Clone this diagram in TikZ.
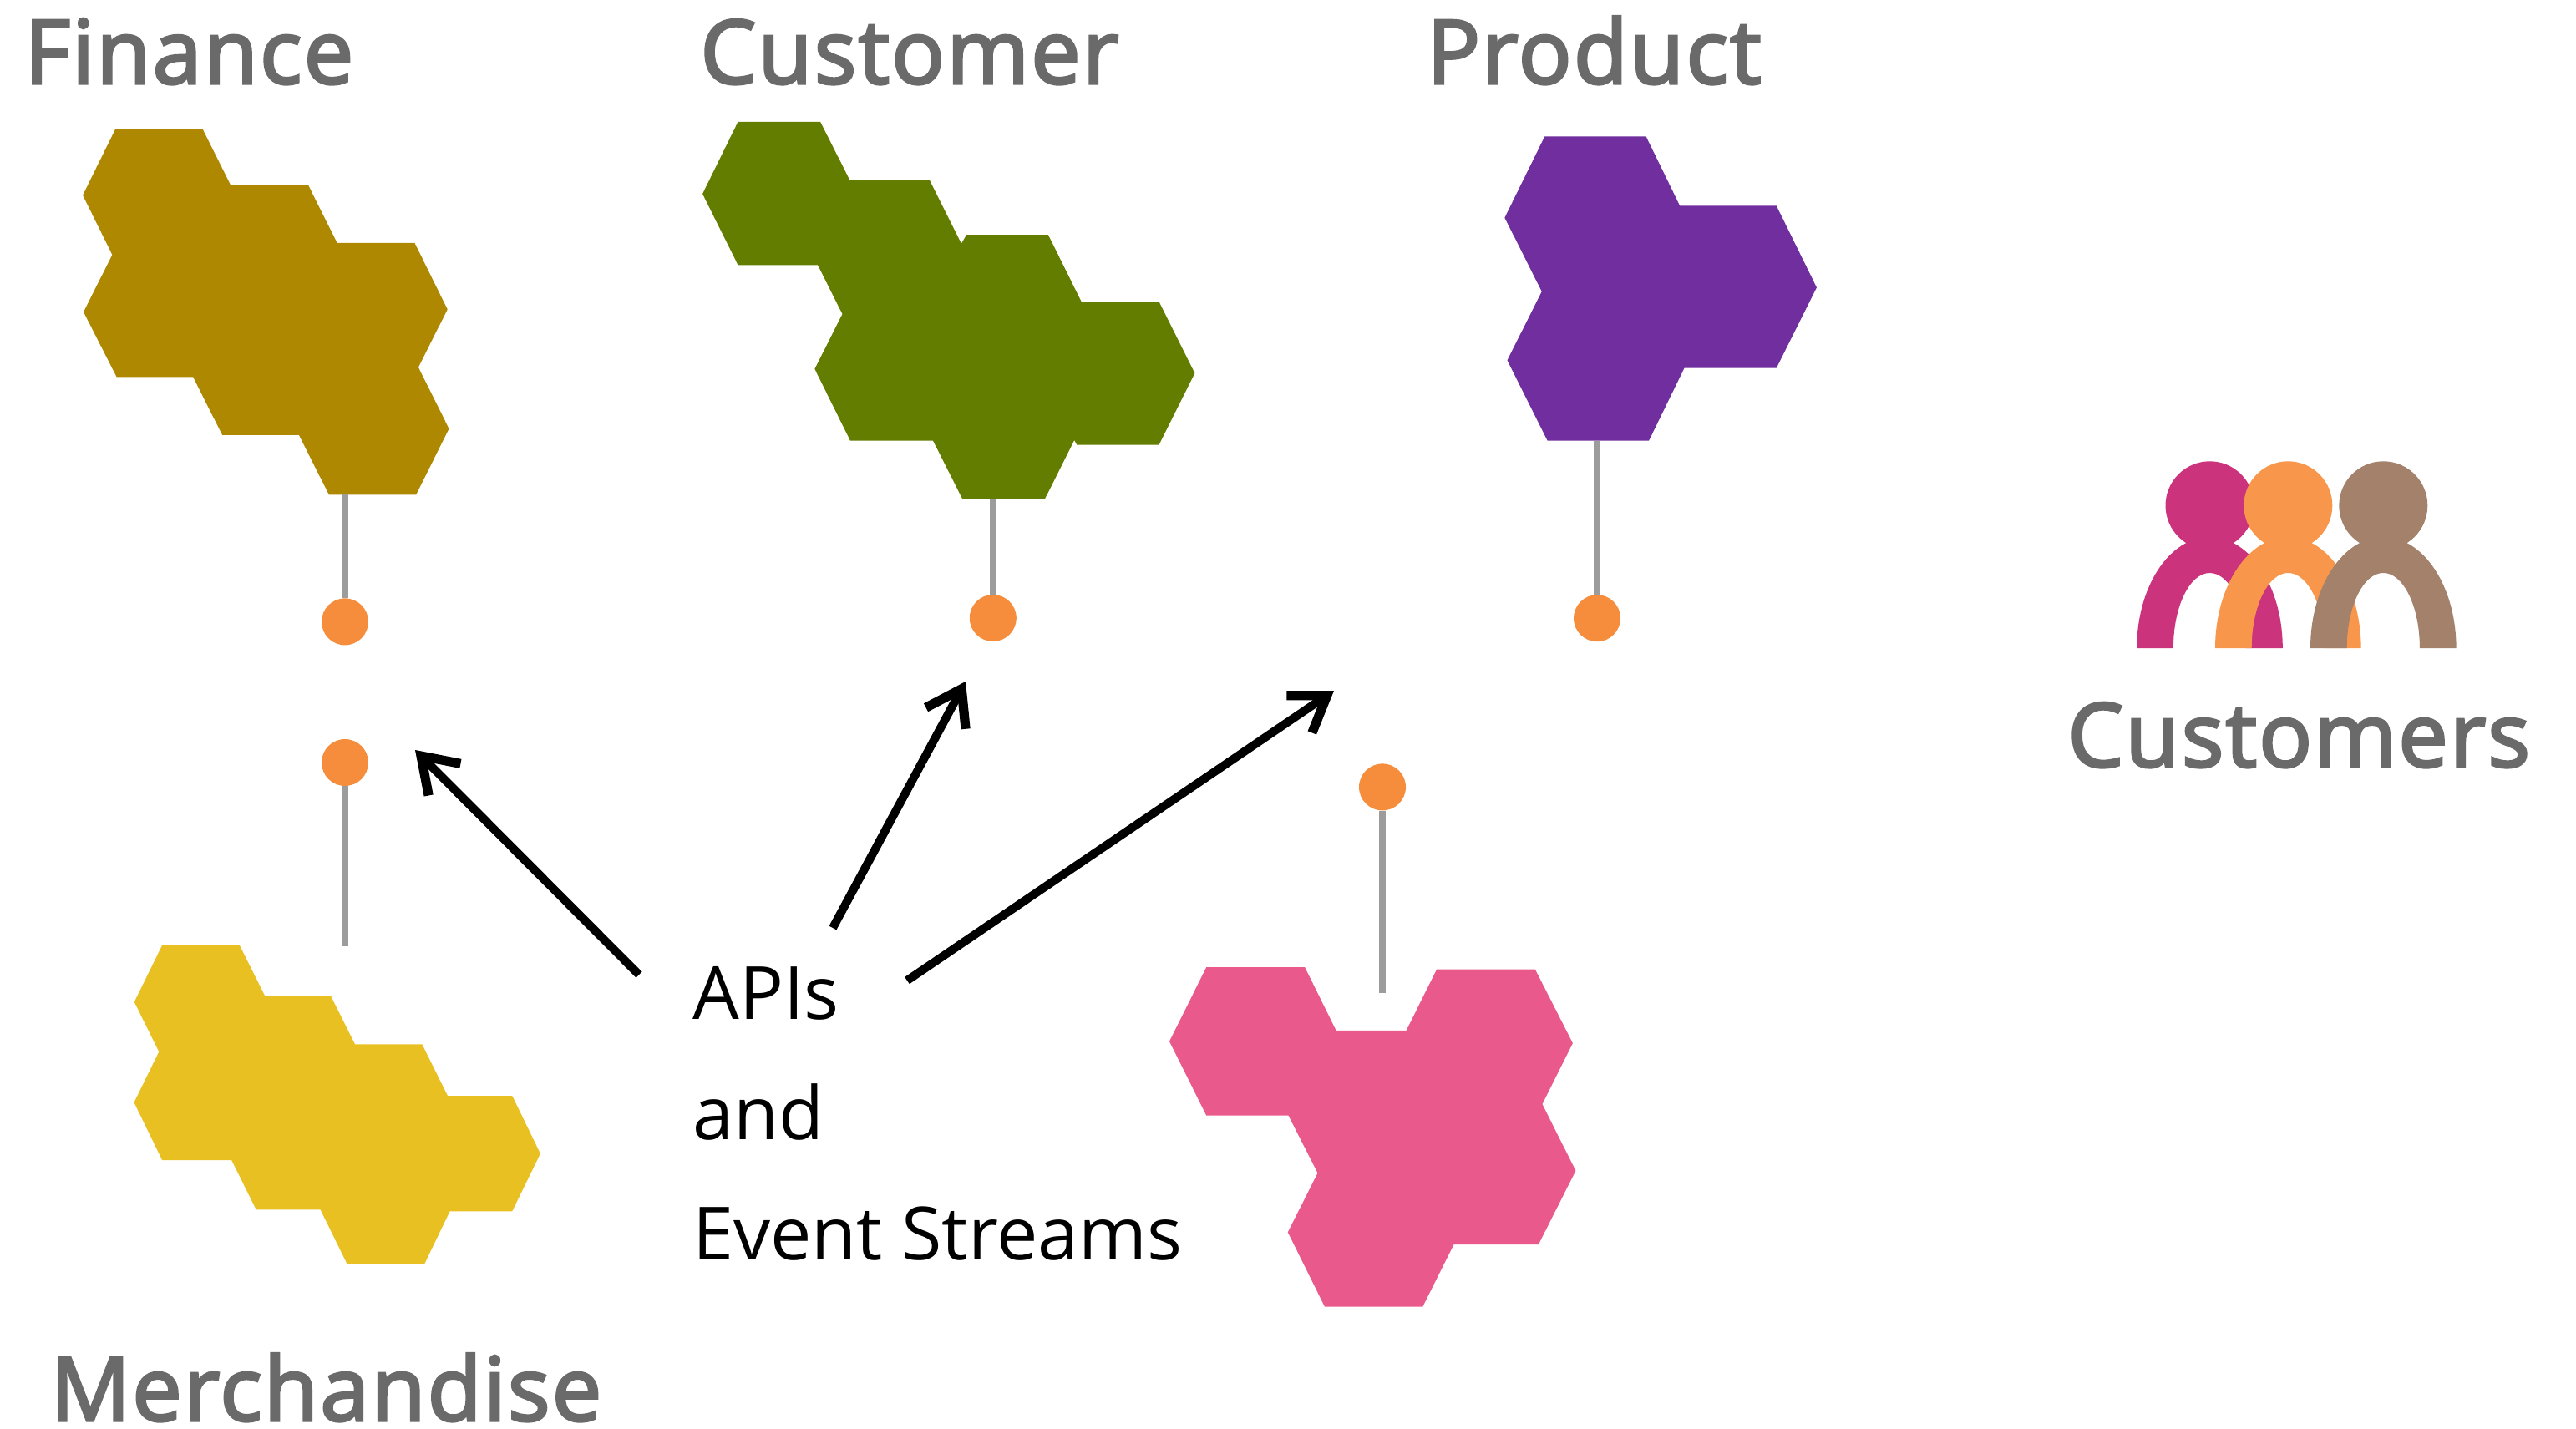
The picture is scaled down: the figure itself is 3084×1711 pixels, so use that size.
\documentclass[tikz,border=0pt]{standalone}
\usepackage{fontspec}
\setmainfont{Open Sans}
\newfontfamily\headfont[FakeBold=3,LetterSpace=2.1]{Open Sans}
\usetikzlibrary{arrows.meta}
% muted headline colours
\definecolor{labelgrey}{HTML}{6A6A6A}
\definecolor{stemgrey}{HTML}{9C9C9C}
\definecolor{dotorange}{HTML}{F68D3C}
\definecolor{finbrown}{HTML}{AD8800}
\definecolor{custgreen}{HTML}{627D00}
\definecolor{prodpurple}{HTML}{702E9E}
\definecolor{merchyellow}{HTML}{E9C022}
\definecolor{pinkcell}{HTML}{E9598B}
\definecolor{peoplered}{HTML}{CB337C}
\definecolor{peopleorange}{HTML}{F8974B}
\definecolor{peoplebrown}{HTML}{A3816B}

\begin{document}
\begin{tikzpicture}[
     x=0.5pt, y=-0.5pt,
     % define styles
     heading/.style={
         anchor=base west,
         inner sep=0pt,
         text=labelgrey,
         font=\headfont\fontsize{53}{53}\selectfont
     },
     apitext/.style={
         anchor=base west,
         inner sep=0pt,
         text=black,
         font=\fontsize{44}{44}\selectfont
     },
     pin/.style={
         circle,
         fill=dotorange,
         inner sep=0pt,
         minimum size=28pt
     },
     stem/.style={
         draw=stemgrey,
         line width=4pt
     },
     flow/.style={
         -{Straight Barb[length=20pt,width=27pt,line width=5.6pt]},
         line width=5pt
     }
]
\useasboundingbox (0,0) rectangle (3084,1711);

% cell groups
\fill[finbrown] (138.4,154.1) -- (242.4,154.1) -- (276.3,221.9) -- (369.2,221.9) -- (403.6,290.8) -- (496.4,290.8) -- (535.7,370.4) -- (500.9,439.8) -- (537.5,513.3) -- (498.2,592.3) -- (393.8,592.3) -- (358,520.9) -- (266.1,520.9) -- (231.3,451.5) -- (139.7,451.5) -- (100,373.5) -- (134.4,305.1) -- (99.1,233.7) -- cycle;
\fill[custgreen] (883.5,145.9) -- (982.1,145.9) -- (1017.4,215.8) -- (1112.9,215.8) -- (1150.9,291.8) -- (1157.1,281.1) -- (1254.9,281.1) -- (1294.6,361.2) -- (1387.5,361.2) -- (1430.4,446.9) -- (1387.5,532.7) -- (1289.3,532.7) -- (1286.2,527) -- (1250.9,597.4) -- (1152.2,597.4) -- (1117,527.6) -- (1017.9,527.6) -- (975.4,441.8) -- (1008.5,376) -- (979,317.3) -- (883.5,317.3) -- (841.1,232.1) -- cycle;
\fill[prodpurple] (1849.3,163.4) -- (1970.6,163.4) -- (2011.1,246.4) -- (2126.7,246.4) -- (2174.9,344.2) -- (2126.7,440.6) -- (2016.5,440.6) -- (1974,527.7) -- (1852.7,527.7) -- (1804.5,431.3) -- (1845.8,349.1) -- (1801.4,260.7) -- cycle;
\fill[merchyellow] (194.5,1131) -- (286.4,1131) -- (317,1192) -- (395.8,1192) -- (424.9,1250.3) -- (505.3,1250.3) -- (535.9,1312) -- (613.2,1312) -- (646.9,1381.3) -- (613.2,1450.3) -- (538.6,1450.3) -- (508,1513.7) -- (415.7,1513.7) -- (383.6,1448.3) -- (306.7,1448.3) -- (277.2,1389) -- (194.1,1389) -- (160.5,1320) -- (190.3,1259.3) -- (160.8,1199.7) -- cycle;
\fill[pinkcell] (1444.3,1158) -- (1562.1,1158) -- (1599.6,1233.9) -- (1683.6,1233.9) -- (1720,1160.7) -- (1837.9,1160.7) -- (1882.9,1249.1) -- (1846.4,1321.9) -- (1886.4,1401.8) -- (1841.8,1490.2) -- (1740.4,1490.2) -- (1703.2,1564.7) -- (1586,1564.7) -- (1541.8,1475.4) -- (1577.5,1404.5) -- (1542.5,1335.7) -- (1444.3,1335.7) -- (1400,1246.9) -- cycle;

% pins and their stems
\node[pin] (finpin) at (413,744.4) {};
\node[pin] (custpin) at (1188.8,740) {};
\node[pin] (prodpin) at (1912,740.2) {};
\node[pin] (merchpin) at (413,913) {};
\node[pin] (pinkpin) at (1655,942.4) {};
\coordinate (finbase) at (413,592.3);
\coordinate (custbase) at (1188.8,597.4);
\coordinate (prodbase) at (1912,527.7);
\coordinate (merchbase) at (413,1132.7);
\coordinate (pinkbase) at (1655,1188.8);
\foreach \grp in {fin,cust,prod,merch,pink}
    \draw[stem] (\grp pin) -- (\grp base);

% customers, back to front
\foreach \cx/\col in {2645.5/peoplered,2739.3/peopleorange,2853.3/peoplebrown} {
    \fill[\col] (\cx,605.3) circle (53);
    \fill[\col] (\cx-87.3,776) arc (180:360:87.3 and 133) -- (\cx+43.6,776) arc (360:180:43.6 and 90) -- cycle;
}

% headings
\node[heading] (finlabel) at (29,100) {Finance};
\node[heading] (custlabel) at (838,100) {Customer};
\node[heading] (prodlabel) at (1708,100) {Product};
\node[heading] (merchlabel) at (60,1701) {Merchandise};
\node[heading] (peoplelabel) at (2475,918) {Customers};

% middle text
\node[apitext] (apis) at (829,1220) {APIs};
\node[apitext] (and) at (829,1364) {and};
\node[apitext] (events) at (829,1508) {Event Streams};

% arrows out of the middle text
\coordinate (leftstart) at (765,1167);
\coordinate (leftend) at (497,898);
\coordinate (midstart) at (997,1111);
\coordinate (midend) at (1156,816);
\coordinate (rightstart) at (1086,1174);
\coordinate (rightend) at (1597,827);
\foreach \side in {left,mid,right}
    \draw[flow] (\side start) -- (\side end);
\end{tikzpicture}
\end{document}
